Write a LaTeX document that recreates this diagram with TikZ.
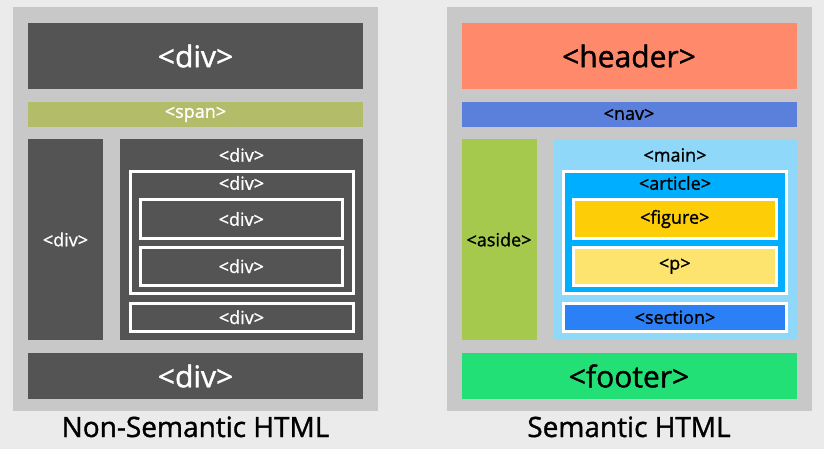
\documentclass[tikz,border=0pt]{standalone}
\usepackage{fontspec}
\setmainfont{Open Sans}[FakeBold=1.2, UprightFeatures={FakeBold=1.2}]
\definecolor{bgc}{HTML}{EBEBEB}
\definecolor{panelc}{HTML}{C8C8C8}
\definecolor{darkc}{HTML}{545454}
\definecolor{spanc}{HTML}{B3BC69}
\definecolor{headerc}{HTML}{FF8A6B}
\definecolor{navc}{HTML}{5A80DC}
\definecolor{asidec}{HTML}{A5C94D}
\definecolor{mainc}{HTML}{8FD8FA}
\definecolor{articlec}{HTML}{00AEFF}
\definecolor{figurec}{HTML}{FDCE07}
\definecolor{pc}{HTML}{FDE46E}
\definecolor{sectionc}{HTML}{2B80F5}
\definecolor{footerc}{HTML}{22E076}
\tikzset{
  blk/.style={inner sep=0pt, outer sep=0pt, draw=none},
  bigtxt/.style={font=\fontsize{30}{36}\selectfont},
  smalltxt/.style={font=\fontsize{18}{22}\selectfont},
  wframe/.style={blk, draw=white, line width=3pt},
  lbl/.style={inner sep=0pt, smalltxt},
}
\begin{document}
\begin{tikzpicture}[x=1pt,y=-1pt]
\useasboundingbox (0,0) rectangle (824,449);
\fill[bgc] (0,0) rectangle (824,449);
% ---------- left panel ----------
\node[blk, fill=panelc, minimum width=365, minimum height=404] (panelL) at (195.5,209) {};
\node[blk, fill=darkc, text=white, bigtxt, minimum width=335, minimum height=66] (topL) at (195.5,56) {<div>};
\node[blk, fill=spanc, text=white, smalltxt, minimum width=335, minimum height=25] (spanL) at (195.5,114.5) {<span>};
\node[blk, fill=darkc, text=white, smalltxt, minimum width=75, minimum height=201] (asideL) at (65.5,239.5) {<div>};
\node[blk, fill=darkc, minimum width=243, minimum height=201] (mainL) at (241.5,239.5) {};
\node[lbl, text=white] (mainLl) at (241.5,155) {<div>};
\node[wframe, fill=darkc, minimum width=223, minimum height=122] (frameL) at (241.5,232.5) {};
\node[lbl, text=white] (frameLl) at (241.5,183) {<div>};
\node[wframe, fill=darkc, text=white, smalltxt, minimum width=202.5, minimum height=39] (innerA) at (241.25,219) {<div>};
\node[wframe, fill=darkc, text=white, smalltxt, minimum width=202.5, minimum height=38.5] (innerB) at (241.25,266.25) {<div>};
\node[wframe, fill=darkc, text=white, smalltxt, minimum width=223, minimum height=27.5] (bottomL) at (241.5,317.25) {<div>};
\node[blk, fill=darkc, text=white, bigtxt, minimum width=335, minimum height=46.6] (footL) at (195.5,376) {<div>};
\node[anchor=base, inner sep=0pt, font=\fontsize{28}{34}\selectfont] (titleL) at (195.5,437) {Non-Semantic HTML};
% ---------- right panel ----------
\begin{scope}[xshift=433.5pt]
\node[blk, fill=panelc, minimum width=365, minimum height=404] (panelR) at (195.5,209) {};
\node[blk, fill=headerc, bigtxt, minimum width=335, minimum height=66] (header) at (195.5,56) {<header>};
\node[blk, fill=navc, smalltxt, minimum width=335, minimum height=25] (nav) at (195.5,114.5) {<nav>};
\node[blk, fill=asidec, smalltxt, minimum width=75, minimum height=201] (aside) at (65.5,239.5) {<aside>};
\node[blk, fill=mainc, minimum width=243, minimum height=201] (main) at (241.5,239.5) {};
\node[lbl] (mainl) at (241.5,155) {<main>};
\node[wframe, fill=articlec, minimum width=223, minimum height=122] (article) at (241.5,232.5) {};
\node[lbl] (articlel) at (241.5,183) {<article>};
\node[wframe, fill=figurec, smalltxt, minimum width=202.5, minimum height=39] (figure) at (241.25,219) {<figure>};
\node[wframe, fill=pc, smalltxt, minimum width=202.5, minimum height=38.5] (para) at (241.25,266.25) {<p>};
\node[wframe, fill=sectionc, smalltxt, minimum width=223, minimum height=27.5] (section) at (241.5,317.25) {<section>};
\node[blk, fill=footerc, bigtxt, minimum width=335, minimum height=46.6] (footer) at (195.5,376) {<footer>};
\node[anchor=base, inner sep=0pt, font=\fontsize{28}{34}\selectfont] (titleR) at (195.5,437) {Semantic HTML};
\end{scope}
\end{tikzpicture}
\end{document}
